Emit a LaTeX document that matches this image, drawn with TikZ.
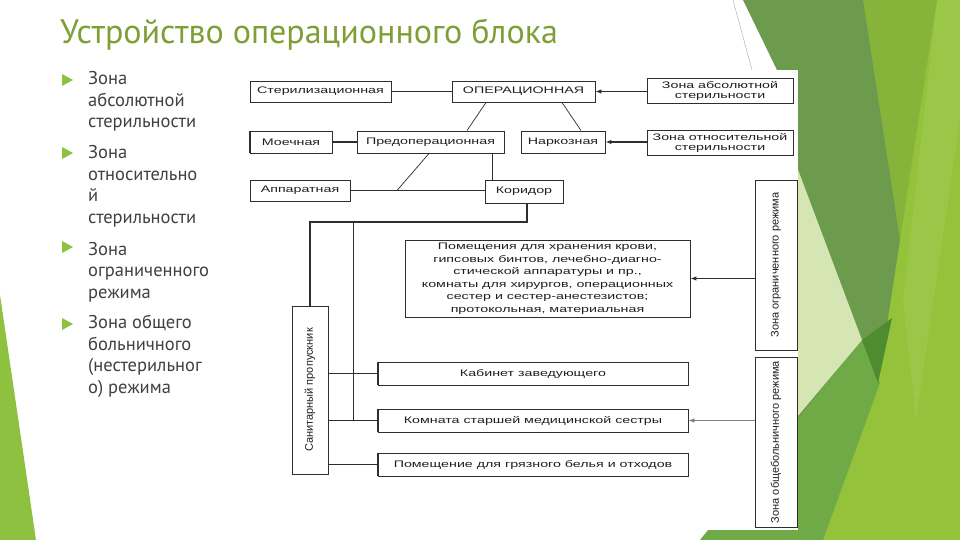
\documentclass[tikz,border=0pt]{standalone}
\usepackage{fontspec}
\setmainfont{PT Sans}
\newfontfamily\dfont[FakeStretch=1.5]{Liberation Sans}
\newfontfamily\vfont{Liberation Sans}
\usetikzlibrary{arrows.meta}
\definecolor{gDark}{HTML}{6C9B4D}
\definecolor{gMid}{HTML}{86B43A}
\definecolor{gLight}{HTML}{94C23A}
\definecolor{gLighter}{HTML}{9BC749}
\definecolor{gPale}{HTML}{D5E6B4}
\definecolor{gDeep}{HTML}{4F8B2F}
\definecolor{gMidB}{HTML}{70AA47}
\definecolor{gLeft}{HTML}{8DC13F}
\definecolor{tc}{HTML}{7F9E36}
\definecolor{bt}{HTML}{404040}
\definecolor{lc}{HTML}{2E2E2E}
\definecolor{txt}{HTML}{202020}
\tikzset{
  box/.style={draw=lc, line width=0.9pt, fill=white, inner sep=0pt, align=center, text=txt,
    font=\dfont\fontsize{9.5}{11}\selectfont},
  vbox/.style={draw=lc, line width=0.9pt, fill=white, inner sep=0pt},
  vlab/.style={rotate=90, text=txt, font=\vfont\fontsize{11}{12}\selectfont},
  ln/.style={draw=lc, line width=0.7pt},
  lnm/.style={draw=lc, line width=1.2pt},
  tk/.style={draw=lc, line width=1.8pt},
  arr/.style={draw=lc, line width=0.8pt, -{Latex[length=6pt,width=4.5pt]}},
  arrg/.style={draw=gray, line width=0.6pt, -{Latex[length=6pt,width=4.5pt]}},
  blt/.style={anchor=base west, inner sep=0pt, align=left, text=bt, font=\fontsize{18.5}{21.5}\selectfont},
}
\begin{document}
\begin{tikzpicture}[x=1pt,y=-1pt]
\useasboundingbox (0,0) rectangle (960,540);
% background decoration
\fill[gLeft] (0,295) -- (36,540) -- (0,540) -- cycle;
\fill[gLight] (843,0) -- (960,0) -- (960,540) -- (805,540) -- cycle;
\fill[gLighter] (937,0) -- (960,0) -- (960,120) -- (916,420) -- (903,300) -- cycle;
\fill[gMid] (863,0) -- (937,0) -- (900,240) -- cycle;
\fill[gDark] (743,0) -- (863,0) -- (900,240) -- (878,383) -- (797,420) -- (777,70) -- cycle;
\fill[gMidB] (700,540) -- (797,420) -- (862,340) -- (880,383) -- (823,540) -- cycle;
\fill[gPale] (797,167) -- (862,340) -- (797,417) -- cycle;
\fill[gDeep] (862,340) -- (892,318) -- (878,383) -- cycle;
\draw[gray!70, line width=0.4pt] (733,0) -- (752,70);
\fill[white] (240,70) rectangle (798,530);

% title
\node[anchor=base west, inner sep=0pt, text=tc, font=\fontsize{34}{38}\selectfont] (title) at (60,44) {Устройство операционного блока};

% bullets
\fill[gLeft] (62,74) -- (73,80) -- (62,86) -- cycle;
\fill[gLeft] (62,147) -- (73,153) -- (62,159) -- cycle;
\fill[gLeft] (62,241) -- (73,247) -- (62,253) -- cycle;
\fill[gLeft] (62,318) -- (73,324) -- (62,330) -- cycle;
\node[blt] (b1) at (88,128) {Зона\\абсолютной\\стерильности};
\node[blt] (b2) at (88,223) {Зона\\относительно\\й\\стерильности};
\node[blt] (b3) at (88,298) {Зона\\ограниченного\\режима};
\node[blt] (b4) at (88,393) {Зона общего\\больничного\\(нестерильног\\о) режима};

% diagram boxes
\node[box, minimum width=141pt, minimum height=21pt] (ster) at (320.5,91.5) {Стерилизационная};
\node[box, minimum width=143pt, minimum height=21pt] (oper) at (523.5,91.5) {ОПЕРАЦИОННАЯ};
\node[box, minimum width=146pt, minimum height=25pt, font=\dfont\fontsize{9.5}{10}\selectfont] (zabs) at (720,90.5) {Зона абсолютной\\стерильности};
\node[box, minimum width=82pt, minimum height=22pt] (moech) at (291,142) {Моечная};
\node[box, minimum width=147pt, minimum height=22pt] (preop) at (430.5,142) {Предоперационная};
\node[box, minimum width=84pt, minimum height=22pt] (nark) at (563,142) {Наркозная};
\node[box, minimum width=146pt, minimum height=25pt, font=\dfont\fontsize{9.5}{10}\selectfont] (zotn) at (720,142.5) {Зона относительной\\стерильности};
\node[box, minimum width=100pt, minimum height=21pt] (appar) at (300,190.5) {Аппаратная};
\node[box, minimum width=78pt, minimum height=23pt] (korid) at (524,191.5) {Коридор};
\node[box, minimum width=285pt, minimum height=77pt, font=\dfont\fontsize{9.5}{12.5}\selectfont] (big) at (547.5,278.5)
  {Помещения для хранения крови,\\гипсовых бинтов, лечебно-диагно-\\стической аппаратуры и пр.,\\комнаты для хирургов, операционных\\сестер и сестер-анестезистов;\\протокольная, материальная};
\node[box, minimum width=310pt, minimum height=23pt] (kab) at (533,373.5) {Кабинет заведующего};
\node[box, minimum width=310pt, minimum height=23pt] (komn) at (533,420.5) {Комната старшей медицинской сестры};
\node[box, minimum width=310pt, minimum height=23pt] (pomg) at (533,464.5) {Помещение для грязного белья и отходов};
\node[vbox, minimum width=36pt, minimum height=168pt] (sanp) at (310,390) {};
\node[vlab] (sanpt) at (sanp.center) {Санитарный пропускник};
\node[vbox, minimum width=42pt, minimum height=170pt] (zogr) at (776,265) {};
\node[vlab] (zogrt) at (zogr.center) {Зона ограниченного режима};
\node[vbox, minimum width=42pt, minimum height=170pt] (zobs) at (776,442) {};
\node[vlab] (zobst) at (zobs.center) {Зона общебольничного режима};

% thick left edges
\draw[tk] (moech.north west) -- (moech.south west);
\draw[tk] (kab.north west) -- (kab.south west);
\draw[tk] (komn.north west) -- (komn.south west);
\draw[tk] (pomg.north west) -- (pomg.south west);

% connectors
\draw[ln] (ster.east) -- (oper.west);
\draw[arr] (zabs.west |- oper.east) -- (oper.east);
\draw[ln] ([xshift=-37.5pt]oper.south) -- ([xshift=36.5pt]preop.north);
\draw[ln] ([xshift=38.5pt]oper.south) -- ([xshift=18pt]nark.north);
\draw[lnm] (moech.east) -- (preop.west);
\draw[arr, line width=1.2pt] (zotn.west |- nark.east) -- (nark.east);
\draw[ln] (appar.east) -- (appar.east -| korid.west);
\coordinate (j1) at (397,190.5);
\draw[ln] ([xshift=-1.5pt]preop.south) -- (j1);
\draw[ln] ([xshift=61.5pt]preop.south) -- ([xshift=61.5pt]preop.south |- korid.north);
\coordinate (k1) at (527,222);
\draw[tk, line width=1.4pt] ([xshift=3pt]korid.south) -- (k1) -| (sanp.north);
\coordinate (t1) at (353,222);
\draw[ln] (t1) -- (t1 |- komn.west);
\draw[tk, line width=1.4pt] (sanp.east |- kab.west) -- (kab.west);
\draw[ln] (sanp.east |- komn.west) -- (komn.west);
\draw[ln] (sanp.east |- pomg.west) -- (pomg.west);
\draw[arr, line width=1pt] (zogr.west |- big.east) -- (big.east);
\draw[arrg] (zobs.west |- komn.east) -- (komn.east);
\end{tikzpicture}
\end{document}
